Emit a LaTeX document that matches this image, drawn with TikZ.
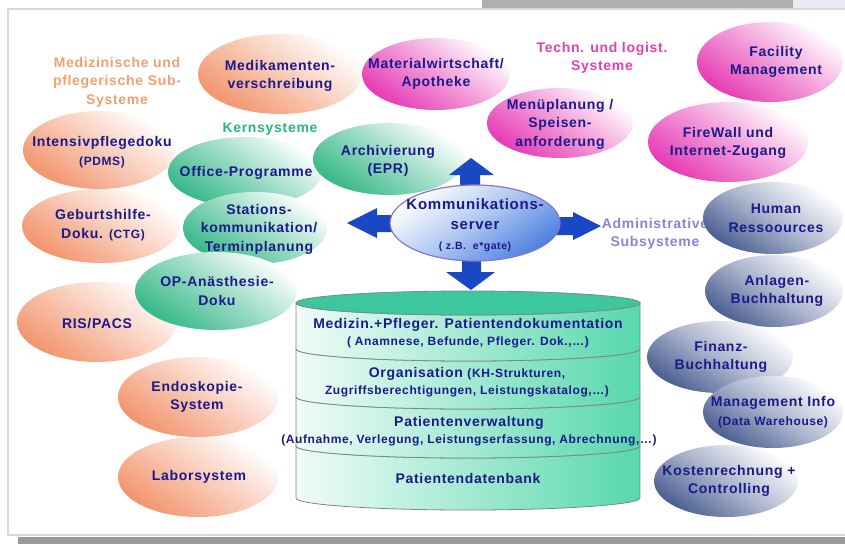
\documentclass[tikz,border=0pt]{standalone}
\usepackage{fontspec}
\setmainfont{Liberation Sans}[LetterSpace=5]
\usetikzlibrary{shapes.geometric}

\definecolor{navytxt}{HTML}{1A1A8A}
\definecolor{salm}{HTML}{F2946C}
\definecolor{grn}{HTML}{36B888}
\definecolor{mag}{HTML}{E63AB4}
\definecolor{slate}{HTML}{4A5E92}
\definecolor{arrowblue}{HTML}{1A48C4}
\definecolor{srvblue}{HTML}{4C80E0}
\definecolor{srvedge}{HTML}{8676CC}
\definecolor{cyltop}{HTML}{3CC79E}
\definecolor{cylgrn}{HTML}{45D3A3}
\definecolor{cyledge}{HTML}{7A8A86}
\definecolor{lblor}{HTML}{F0A070}
\definecolor{lblgr}{HTML}{2BB58B}
\definecolor{lblmag}{HTML}{E040B4}
\definecolor{lbllav}{HTML}{8C84D0}
\definecolor{topbar}{HTML}{AFAFAF}
\definecolor{toplight}{HTML}{EAEAF2}
\definecolor{botbar}{HTML}{999999}
\definecolor{framegray}{HTML}{D8D8D8}

\newcommand\smtxt{\fontsize{12pt}{15pt}\selectfont}
\newcommand\srvsm{\fontsize{10.5pt}{13pt}\selectfont}

\tikzset{
  txt/.style={text=navytxt, font=\bfseries\fontsize{14pt}{18.5pt}\selectfont, align=center, inner sep=0pt},
  cyltxt/.style={txt, font=\bfseries\fontsize{14pt}{17pt}\selectfont},
  lbl/.style={font=\bfseries\fontsize{14pt}{18.5pt}\selectfont, align=center, inner sep=0pt},
  bub/.style={ellipse, inner sep=0pt, draw=none},
  salb/.style={bub, top color=white, bottom color=salm, middle color=salm!50, shading angle=-35},
  grnb/.style={bub, top color=white, bottom color=grn, middle color=grn!52, shading angle=-35},
  magb/.style={bub, top color=white, bottom color=mag, middle color=mag!52, shading angle=-35},
  slab/.style={bub, top color=white, bottom color=slate, middle color=slate!45, shading angle=-35},
  blockarrow/.style={fill=arrowblue},
  cylsec/.style={left color=cylgrn!8, right color=cylgrn!90, draw=cyledge, line width=0.8pt},
}

\begin{document}
\begin{tikzpicture}[x=1pt,y=-1pt]
\useasboundingbox (0,0) rectangle (845,544);
\fill[white] (0,0) rectangle (845,544);
\fill[topbar] (482,0) rectangle (793,8);
\fill[toplight] (793,0) rectangle (845,8);
\fill[botbar] (18,537) rectangle (845,544);
\draw[framegray, line width=1.5pt] (845,9) -- (8,9) -- (8,535) -- (845,535);

% category labels
\node[lbl, text=lblor] (lmed) at (117,82) {Medizinische und\\pflegerische Sub-\\Systeme};
\node[lbl, text=lblgr] (lkern) at (270,129) {Kernsysteme};
\node[lbl, text=lblmag] (ltech) at (602,58) {Techn. und logist.\\Systeme};
\node[lbl, text=lbllav] (ladm) at (655,234) {Administrative\\Subsysteme};

% medical subsystems (salmon)
\node[salb, minimum width=164pt, minimum height=80pt] (medi) at (280,74) {};
\node[txt] (t-medi) at (280,76) {Medikamenten-\\verschreibung};
\node[salb, minimum width=152pt, minimum height=78pt] (intens) at (99,150) {};
\node[txt] (t-intens) at (102,152) {Intensivpflegedoku\\{\smtxt (PDMS)}};
\node[salb, minimum width=158pt, minimum height=74pt] (geb) at (101,226) {};
\node[txt] (t-geb) at (103,225) {Geburtshilfe-\\Doku. {\smtxt (CTG)}};
\node[salb, minimum width=160pt, minimum height=80pt] (ris) at (97,322) {};
\node[txt] (t-ris) at (97,324) {RIS/PACS};
\node[salb, minimum width=160pt, minimum height=80pt] (endo) at (198,397) {};
\node[txt] (t-endo) at (197,397) {Endoskopie-\\System};
\node[salb, minimum width=160pt, minimum height=80pt] (labor) at (198,477) {};
\node[txt] (t-labor) at (199,477) {Laborsystem};

% core systems (green)
\node[grnb, minimum width=154pt, minimum height=70pt] (office) at (245,172) {};
\node[txt] (t-office) at (246,173) {Office-Programme};
\node[grnb, minimum width=152pt, minimum height=72pt] (archiv) at (389,159) {};
\node[txt] (t-archiv) at (388,161) {Archivierung\\(EPR)};
\node[grnb, minimum width=144pt, minimum height=72pt] (stat) at (255,228) {};
\node[txt] (t-stat) at (259,229) {Stations-\\kommunikation/\\Terminplanung};
\node[grnb, minimum width=162pt, minimum height=78pt] (op) at (216,291) {};
\node[txt] (t-op) at (217,291) {OP-Anästhesie-\\Doku};

% technical / logistic (magenta)
\node[magb, minimum width=148pt, minimum height=72pt] (mat) at (436,74) {};
\node[txt] (t-mat) at (436,74) {Materialwirtschaft/\\Apotheke};
\node[magb, minimum width=146pt, minimum height=70pt] (menu) at (560,123) {};
\node[txt] (t-menu) at (560,124) {Menüplanung /\\Speisen-\\anforderung};
\node[magb, minimum width=146pt, minimum height=80pt] (fac) at (770,62) {};
\node[txt] (t-fac) at (776,62) {Facility\\Management};
\node[magb, minimum width=160pt, minimum height=80pt] (fire) at (728,142) {};
\node[txt] (t-fire) at (728,143) {FireWall und\\Internet-Zugang};

% administrative (slate)
\node[slab, minimum width=140pt, minimum height=72pt] (hr) at (773,218) {};
\node[txt] (t-hr) at (776,218) {Human\\Ressoources};
\node[slab, minimum width=138pt, minimum height=72pt] (anl) at (774,291) {};
\node[txt] (t-anl) at (777,291) {Anlagen-\\Buchhaltung};
\node[slab, minimum width=146pt, minimum height=72pt] (fin) at (720,357) {};
\node[txt] (t-fin) at (721,357) {Finanz-\\Buchhaltung};
\node[slab, minimum width=140pt, minimum height=72pt] (mgmt) at (773,412) {};
\node[txt] (t-mgmt) at (773,412) {Management Info\\{\smtxt (Data Warehouse)}};
\node[slab, minimum width=144pt, minimum height=72pt] (kost) at (726,481) {};
\node[txt] (t-kost) at (729,481) {Kostenrechnung +\\Controlling};

% block arrows
\fill[blockarrow] (460,200) -- (460,175) -- (449,175) -- (471,158) -- (494,175) -- (480,175) -- (480,200) -- cycle;
\fill[blockarrow] (462,250) -- (462,272) -- (446,272) -- (471,290) -- (495,272) -- (481,272) -- (481,250) -- cycle;
\fill[blockarrow] (405,215) -- (377,215) -- (377,208) -- (347,223) -- (377,238) -- (377,232) -- (405,232) -- cycle;
\fill[blockarrow] (545,217) -- (573,217) -- (573,212) -- (601,226) -- (573,240) -- (573,235) -- (545,235) -- cycle;

% server
\node[ellipse, inner sep=0pt, minimum width=170pt, minimum height=76pt, draw=srvedge, line width=1.2pt,
      top color=white, bottom color=srvblue, middle color=srvblue!45, shading angle=35] (srv) at (475,223) {};
\node[txt, font=\bfseries\fontsize{15pt}{20pt}\selectfont] (t-srv) at (475,225) {Kommunikations-\\server\\{\srvsm ( z.B.~ e*gate)}};

% database cylinder
\shade[cylsec] (296,446) arc[start angle=180, end angle=0, x radius=172, y radius=12] -- (640,498) arc[start angle=0, end angle=180, x radius=172, y radius=12] -- cycle;
\shade[cylsec] (296,397) arc[start angle=180, end angle=0, x radius=172, y radius=12] -- (640,446) arc[start angle=0, end angle=180, x radius=172, y radius=12] -- cycle;
\shade[cylsec] (296,349) arc[start angle=180, end angle=0, x radius=172, y radius=12] -- (640,397) arc[start angle=0, end angle=180, x radius=172, y radius=12] -- cycle;
\shade[cylsec] (296,303) arc[start angle=180, end angle=0, x radius=172, y radius=12] -- (640,349) arc[start angle=0, end angle=180, x radius=172, y radius=12] -- cycle;
\draw[fill=cyltop, draw=cyledge, line width=0.8pt] (468,303) ellipse [x radius=172, y radius=12];

\node[cyltxt] (s1) at (468,333) {Medizin.+Pfleger. Patientendokumentation\\{\smtxt ( Anamnese, Befunde, Pfleger. Dok.,…)}};
\node[cyltxt] (s2) at (467,382) {Organisation {\smtxt (KH-Strukturen,}\\{\smtxt Zugriffsberechtigungen, Leistungskatalog,…)}};
\node[cyltxt] (s3) at (469,431) {Patientenverwaltung\\{\smtxt (Aufnahme, Verlegung, Leistungserfassung, Abrechnung,…)}};
\node[cyltxt] (s4) at (468,478) {Patientendatenbank};
\end{tikzpicture}
\end{document}
